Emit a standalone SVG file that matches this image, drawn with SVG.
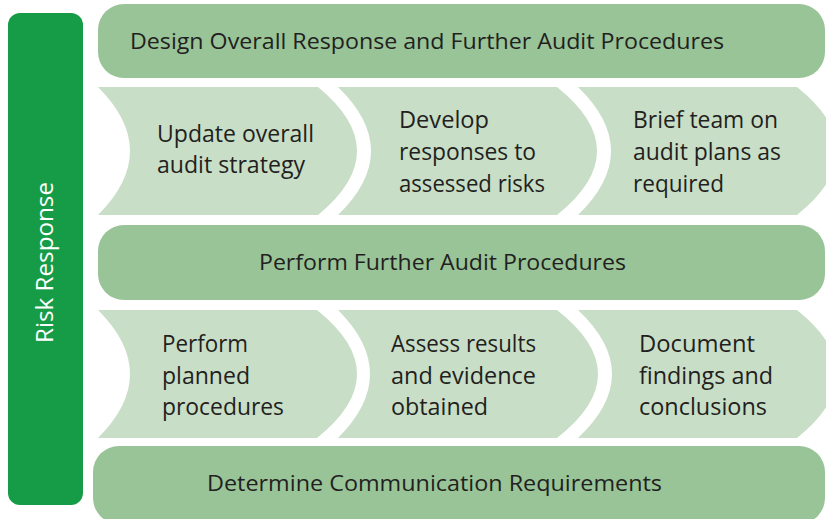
<svg xmlns="http://www.w3.org/2000/svg" width="826" height="519" viewBox="0 0 826 519">
<style>
.bar{fill:#98c498}
.chev{fill:#c8dec7}
.side{fill:#169c47}
text{font-family:"Open Sans","Liberation Sans",Arial,sans-serif;fill:#231f20}
.bt{font-size:21.5px}
.ct{font-size:23px}
.st{font-size:23px;fill:#ffffff}
</style>
<rect width="826" height="519" fill="#ffffff"/>
<g id="side">
<rect class="side" x="8" y="13" width="75" height="492" rx="12"/>
<text class="st" transform="translate(53,262.5) rotate(-90)" text-anchor="middle" textLength="161" lengthAdjust="spacingAndGlyphs">Risk Response</text>
</g>
<g id="bar-design">
<rect class="bar" x="98" y="4" width="727" height="74" rx="26"/>
<text class="bt" x="130" y="49" textLength="594" lengthAdjust="spacingAndGlyphs">Design Overall Response and Further Audit Procedures</text>
</g>
<g id="chev-update">
<path class="chev" d="M98,87 L318,87 Q396,151 318,215 L98,215 Q162,151 98,87 Z"/>
<text class="ct" x="157" y="142" textLength="157" lengthAdjust="spacingAndGlyphs">Update overall</text>
<text class="ct" x="157" y="173" textLength="148" lengthAdjust="spacingAndGlyphs">audit strategy</text>
</g>
<g id="chev-develop">
<path class="chev" d="M338,87 L557,87 Q637,151 557,215 L338,215 Q404,151 338,87 Z"/>
<text class="ct" x="399" y="128" textLength="90" lengthAdjust="spacingAndGlyphs">Develop</text>
<text class="ct" x="399" y="160" textLength="137" lengthAdjust="spacingAndGlyphs">responses to</text>
<text class="ct" x="399" y="192" textLength="146" lengthAdjust="spacingAndGlyphs">assessed risks</text>
</g>
<g id="chev-brief">
<path class="chev" d="M578,87 L797,87 Q877,151 797,215 L578,215 Q644,151 578,87 Z"/>
<text class="ct" x="633" y="128" textLength="145" lengthAdjust="spacingAndGlyphs">Brief team on</text>
<text class="ct" x="633" y="160" textLength="148" lengthAdjust="spacingAndGlyphs">audit plans as</text>
<text class="ct" x="633" y="192" textLength="91" lengthAdjust="spacingAndGlyphs">required</text>
</g>
<g id="bar-perform">
<rect class="bar" x="98" y="225" width="727" height="75" rx="26"/>
<text class="bt" x="259" y="270" textLength="367" lengthAdjust="spacingAndGlyphs">Perform Further Audit Procedures</text>
</g>
<g id="chev-perform">
<path class="chev" d="M98,310 L317,310 Q397,374 317,438 L98,438 Q162,374 98,310 Z"/>
<text class="ct" x="162" y="352" textLength="86" lengthAdjust="spacingAndGlyphs">Perform</text>
<text class="ct" x="162" y="384" textLength="88" lengthAdjust="spacingAndGlyphs">planned</text>
<text class="ct" x="162" y="415" textLength="122" lengthAdjust="spacingAndGlyphs">procedures</text>
</g>
<g id="chev-assess">
<path class="chev" d="M338,310 L557,310 Q639,374 557,438 L338,438 Q402,374 338,310 Z"/>
<text class="ct" x="391" y="352" textLength="145" lengthAdjust="spacingAndGlyphs">Assess results</text>
<text class="ct" x="391" y="384" textLength="145" lengthAdjust="spacingAndGlyphs">and evidence</text>
<text class="ct" x="391" y="415" textLength="97" lengthAdjust="spacingAndGlyphs">obtained</text>
</g>
<g id="chev-document">
<path class="chev" d="M578,310 L797,310 Q877,374 797,438 L578,438 Q646,374 578,310 Z"/>
<text class="ct" x="639" y="352" textLength="116" lengthAdjust="spacingAndGlyphs">Document</text>
<text class="ct" x="639" y="384" textLength="134" lengthAdjust="spacingAndGlyphs">findings and</text>
<text class="ct" x="639" y="415" textLength="128" lengthAdjust="spacingAndGlyphs">conclusions</text>
</g>
<g id="bar-determine">
<rect class="bar" x="93" y="446" width="732" height="78" rx="26"/>
<text class="bt" x="207" y="491" textLength="455" lengthAdjust="spacingAndGlyphs">Determine Communication Requirements</text>
</g>
<g id="connectors"></g>
</svg>
